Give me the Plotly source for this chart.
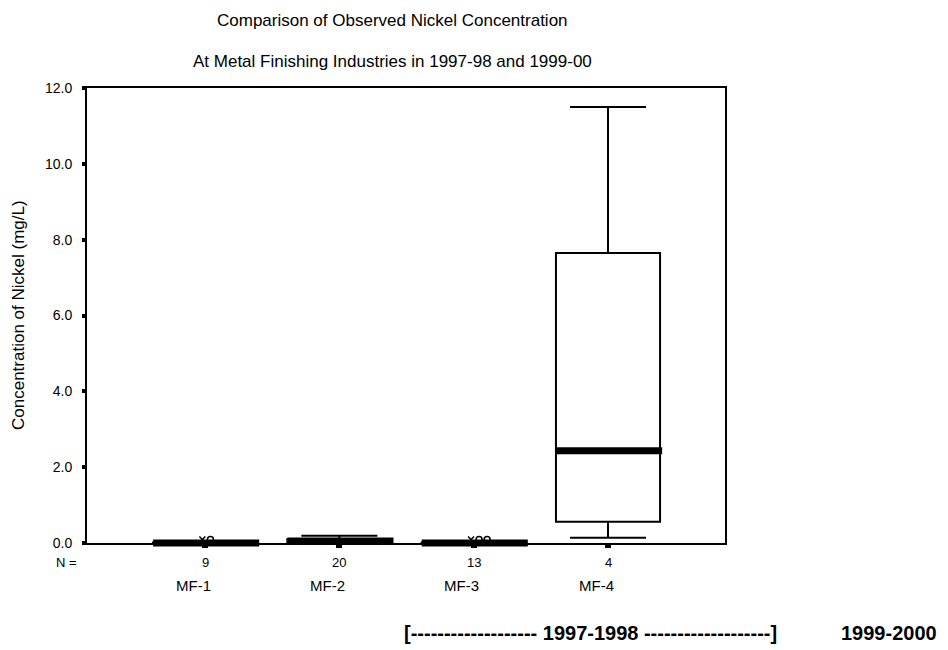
import plotly.graph_objects as go

# Sites and sample counts
sites = ["MF-1", "MF-2", "MF-3", "MF-4"]
counts = [9, 20, 13, 4]

# Box-plot summary statistics of nickel concentration (mg/L)
lower_whisker = [0.0, 0.0, 0.0, 0.14]
q1 = [0.0, 0.0, 0.0, 0.56]
median = [0.0, 0.05, 0.0, 2.43]
q3 = [0.01, 0.10, 0.01, 7.65]
upper_whisker = [0.02, 0.19, 0.02, 11.5]

# Outlying observations: site index, value, kind ('x' = extreme, 'o' = outlier)
outlier_site = [0, 0, 2, 2, 2]
outlier_value = [0.09, 0.09, 0.09, 0.09, 0.09]
outlier_kind = ["x", "o", "x", "o", "o"]

y_ticks = [0, 2, 4, 6, 8, 10, 12]
title_lines = ["Comparison of Observed Nickel Concentration",
               "At Metal Finishing Industries in 1997-98 and 1999-00"]
y_title = "Concentration of Nickel (mg/L)"
period_label = "[------------------- 1997-1998 -------------------]"
period_label_2 = "1999-2000"

FONT = "Liberation Sans, Arial, sans-serif"
xpos = list(range(1, len(sites) + 1))
BOX_W = 0.775

# plot area in pixels: left 87, right 725, top 88, bottom 543
L, R, T, B = 87, 725, 88, 543
X_RANGE = [0.121, 4.871]
BOX_PX = BOX_W * (R - L) / (X_RANGE[1] - X_RANGE[0])


def px_x(p):
    return (p - L) / (R - L)


def px_y(p):
    return (B - p) / (B - T)


def label(x, y, text, size, xref="paper", bold=False, **kw):
    return dict(x=x, y=y, xref=xref, yref="paper",
                text="<b>" + text + "</b>" if bold else text,
                xanchor="center", yanchor="middle", showarrow=False,
                font=dict(size=size, family=FONT, color="black"), **kw)


fig = go.Figure()

fig.add_trace(go.Box(
    x=xpos, q1=q1, median=median, q3=q3,
    lowerfence=lower_whisker, upperfence=upper_whisker,
    width=BOX_W, whiskerwidth=0.73,
    fillcolor="white", line=dict(color="black", width=2),
    boxpoints=False, showlegend=False, hoverinfo="skip",
))

# heavy median bars, drawn as wide horizontal line markers so that
# bars sitting on the zero baseline are not clipped
# (the line-ew symbol spans 1.4 x its nominal size)
fig.add_trace(go.Scatter(
    x=[xi + 0.008 for xi in xpos], y=median, mode="markers",
    marker=dict(symbol="line-ew", size=(BOX_PX + 2) / 1.4, color="black",
                line=dict(width=7, color="black")),
    showlegend=False, hoverinfo="skip", cliponaxis=False,
))

# outlier markers, spread sideways a little within each site
seen = {}
for s, v, k in zip(outlier_site, outlier_value, outlier_kind):
    n = seen.get(s, 0)
    seen[s] = n + 1
    fig.add_trace(go.Scatter(
        x=[xpos[s] - 0.02 + 0.06 * n], y=[v], mode="markers",
        marker=dict(symbol="x-thin-open" if k == "x" else "circle-open",
                    size=6, color="black", line=dict(width=1.5, color="black")),
        showlegend=False, hoverinfo="skip", cliponaxis=False,
    ))

ann = []
for xi, c, s in zip(xpos, counts, sites):
    ann.append(label(xi, px_y(562), str(c), 13, xref="x"))
    ann.append(label(xi, px_y(585), s, 15, xref="x", xshift=-12))
ann.append(label(px_x(66), px_y(562), "N =", 13))
ann.append(label(px_x(590), px_y(633), period_label, 20, bold=True))
ann.append(label(px_x(889), px_y(633), period_label_2, 20, bold=True))
ann.append(label(px_x(392), px_y(20), title_lines[0], 17))
ann.append(label(px_x(392), px_y(62), title_lines[1], 17))
ann.append(label(px_x(18), px_y(315), y_title, 17, textangle=-90))

fig.update_layout(
    width=948, height=650,
    margin=dict(l=L, r=948 - R, t=T, b=650 - B),
    paper_bgcolor="white", plot_bgcolor="white",
    font=dict(family=FONT, color="black"),
    xaxis=dict(range=X_RANGE, tickvals=xpos, showticklabels=False,
               ticks="outside", ticklen=3, tickwidth=6, tickcolor="black",
               showline=True, mirror=True, linecolor="black", linewidth=2,
               showgrid=False, zeroline=False, fixedrange=True),
    yaxis=dict(range=[0, 12], tickvals=y_ticks, tickformat=".1f",
               ticks="outside", ticklen=3, tickwidth=4, tickcolor="black",
               tickfont=dict(size=14, family=FONT), ticklabelstandoff=7,
               showline=True, mirror=True, linecolor="black", linewidth=2,
               showgrid=False, zeroline=False),
    annotations=ann,
)

fig.write_html("out.html")
